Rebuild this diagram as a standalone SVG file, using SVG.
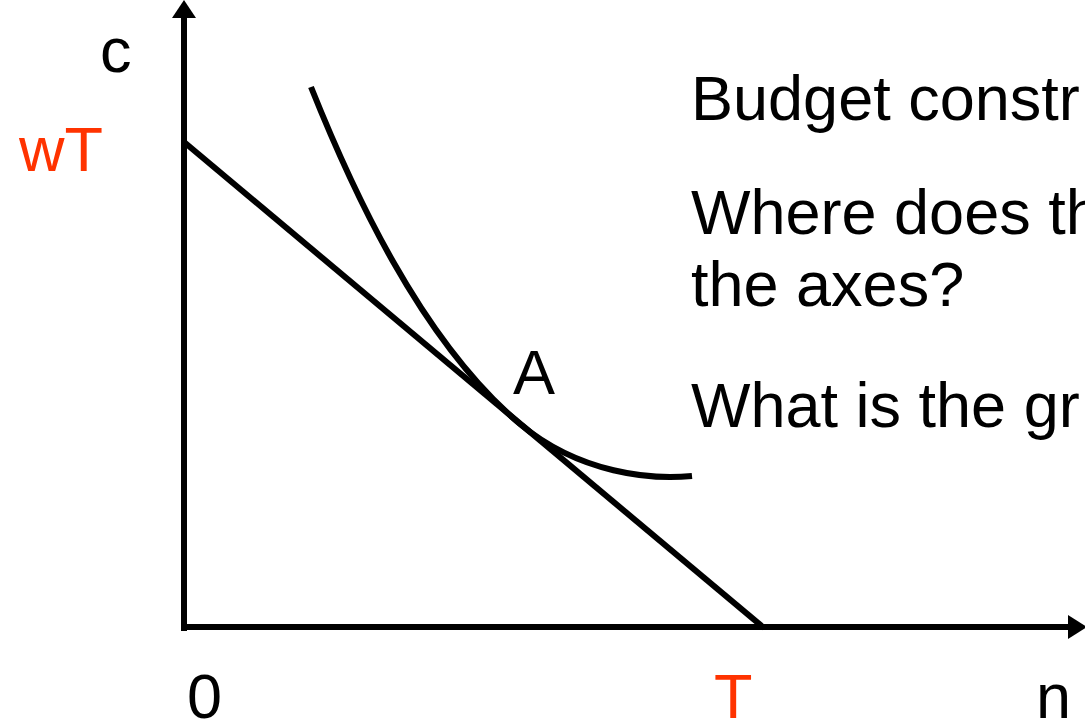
<svg xmlns="http://www.w3.org/2000/svg" width="1085" height="725" viewBox="0 0 1085 725">
<style>
.t{font-family:"Liberation Sans",Arial,sans-serif;font-size:63px;fill:#000}
.r{fill:#FF3300}
.ax{stroke:#000;stroke-width:6;fill:none}
</style>
<rect width="1085" height="725" fill="#fff"/>
<g id="connectors">
<line class="ax" x1="184" y1="631" x2="184" y2="14"/>
<polygon points="184,0 172,18 196,18" fill="#000"/>
<line class="ax" x1="181" y1="627" x2="1070" y2="627"/>
<polygon points="1087,627 1068,615 1068,639" fill="#000"/>
<line class="ax" x1="184" y1="142" x2="764" y2="628"/>
<path class="ax" stroke-width="5.5" d="M311,87 C351,187 420,340 520,424 C580,474 652,480 692,476"/>
</g>
<g id="labels">
<text class="t" x="100" y="72">c</text>
<text class="t r" x="19" y="171">wT</text>
<text class="t" x="513" y="394">A</text>
<text class="t" x="187" y="718">0</text>
<text class="t r" x="714" y="718">T</text>
<text class="t" x="1036" y="718">n</text>
</g>
<g id="text">
<text class="t" x="691" y="120">Budget constr</text>
<text class="t" x="691" y="234">Where does th</text>
<text class="t" x="691" y="306">the axes?</text>
<text class="t" x="691" y="427">What is the gr</text>
</g>
</svg>
